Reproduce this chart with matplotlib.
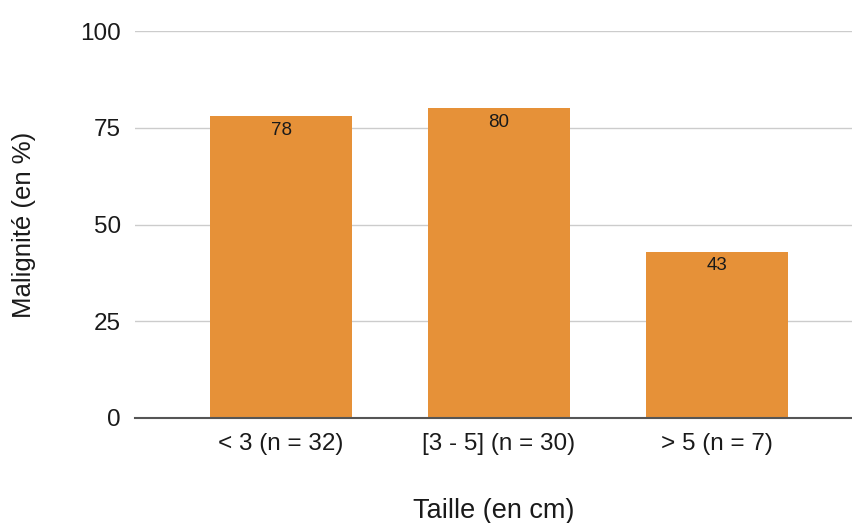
import matplotlib
matplotlib.use("Agg")
import matplotlib.pyplot as plt

plt.rcParams['font.family'] = ['Liberation Sans', 'DejaVu Sans']

# data
categories = ['< 3 (n = 32)', '[3 - 5] (n = 30)', '> 5 (n = 7)']
malignite = [78, 80, 43]
y_ticks = [0, 25, 50, 75, 100]

BAR_COLOR = '#E69138'
TEXT_COLOR = '#1a1a1a'

fig = plt.figure(figsize=(8.53, 5.23), dpi=100)
ax = fig.add_axes([135 / 853, 105 / 523, 717 / 853, 387 / 523])

x = range(len(categories))
bars = ax.bar(x, malignite, width=0.65, color=BAR_COLOR, zorder=3)

for rect, val in zip(bars, malignite):
    ax.text(rect.get_x() + rect.get_width() / 2, rect.get_height() - 1.5, str(val),
            ha='center', va='top', fontsize=13.5, color=TEXT_COLOR, zorder=4)

ax.set_xlim(-0.67, 2.62)
ax.set_ylim(0, 100)
ax.set_yticks(y_ticks)
ax.set_yticklabels([str(t) for t in y_ticks], fontsize=17.5, color=TEXT_COLOR)
ax.set_xticks(list(x))
ax.set_xticklabels(categories, fontsize=17.5, color=TEXT_COLOR)
ax.tick_params(axis='both', length=0)
ax.tick_params(axis='y', pad=10)
ax.tick_params(axis='x', pad=11)

ax.yaxis.grid(True, color='#CCCCCC', linewidth=1, zorder=0)
for side in ['top', 'right', 'left']:
    ax.spines[side].set_visible(False)
ax.spines['bottom'].set_color('#555555')
ax.spines['bottom'].set_linewidth(1.5)
ax.spines['bottom'].set_zorder(5)

ax.set_ylabel('Malignité (en %)', fontsize=18.5, color=TEXT_COLOR, labelpad=32)
ax.set_xlabel('Taille (en cm)', fontsize=19.5, color=TEXT_COLOR, labelpad=31)

fig.savefig('out.png', dpi=100)
